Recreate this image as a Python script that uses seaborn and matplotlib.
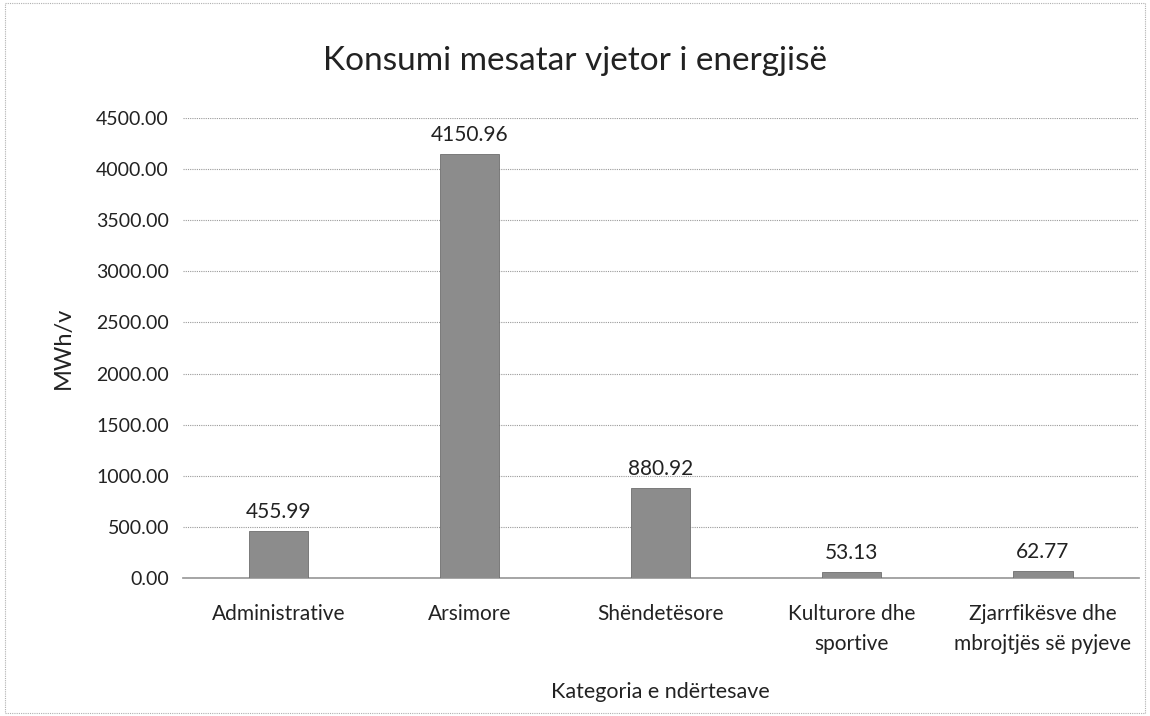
import matplotlib
matplotlib.use('Agg')
import matplotlib.pyplot as plt
import seaborn as sns
import pandas as pd

# Chart data
categories = ['Administrative', 'Arsimore', 'Shëndetësore',
              'Kulturore dhe\nsportive', 'Zjarrfikësve dhe\nmbrojtjës së pyjeve']
consumption = [455.99, 4150.96, 880.92, 53.13, 62.77]
y_ticks = [0, 500, 1000, 1500, 2000, 2500, 3000, 3500, 4000, 4500]

df = pd.DataFrame({'category': categories, 'value': consumption})

sns.set_theme(style='white')
plt.rcParams['font.family'] = ['Lato', 'DejaVu Sans']

fig = plt.figure(figsize=(11.5, 7.16), dpi=100)
ax = fig.add_axes([0.159, 0.193, 0.831, 0.642])

sns.barplot(data=df, x='category', y='value', color='#8c8c8c', width=0.31,
            saturation=1, edgecolor='#6e6e6e', linewidth=0.6, ax=ax, zorder=3)

for i, v in enumerate(consumption):
    ax.text(i, v + 90, f'{v:.2f}', ha='center', va='bottom', fontsize=15, color='#222222')

ax.set_ylim(0, 4500)
ax.set_yticks(y_ticks)
ax.set_yticklabels([f'{t:.2f}' for t in y_ticks], fontsize=14, color='#222222')
ax.set_xticks(range(len(categories)))
ax.set_xticklabels(categories, fontsize=15, color='#222222', linespacing=1.6)
ax.tick_params(axis='x', length=0, pad=19)
ax.tick_params(axis='y', length=0, pad=10)
ax.grid(axis='y', color='#9a9a9a', linestyle=(0, (1, 1)), linewidth=0.8, zorder=0)
for s in ['top', 'right', 'left']:
    ax.spines[s].set_visible(False)
ax.spines['bottom'].set_color('#9a9a9a')
ax.spines['bottom'].set_linestyle((0, (1, 1)))

ax.set_xlabel('Kategoria e ndërtesave', fontsize=15.5, color='#222222', labelpad=20)
ax.set_ylabel('MWh/v', fontsize=17, color='#222222', labelpad=16)
fig.text(0.5, 0.915, 'Konsumi mesatar vjetor i energjisë', ha='center', va='center',
         fontsize=24, color='#222222')

# light frame like the chart border
frame = plt.Rectangle((0.004, 0.004), 0.992, 0.992, transform=fig.transFigure,
                      fill=False, edgecolor='#b0b0b0', linestyle=(0, (1, 1)), linewidth=0.8)
fig.patches.append(frame)

fig.savefig('out.png', dpi=100)
